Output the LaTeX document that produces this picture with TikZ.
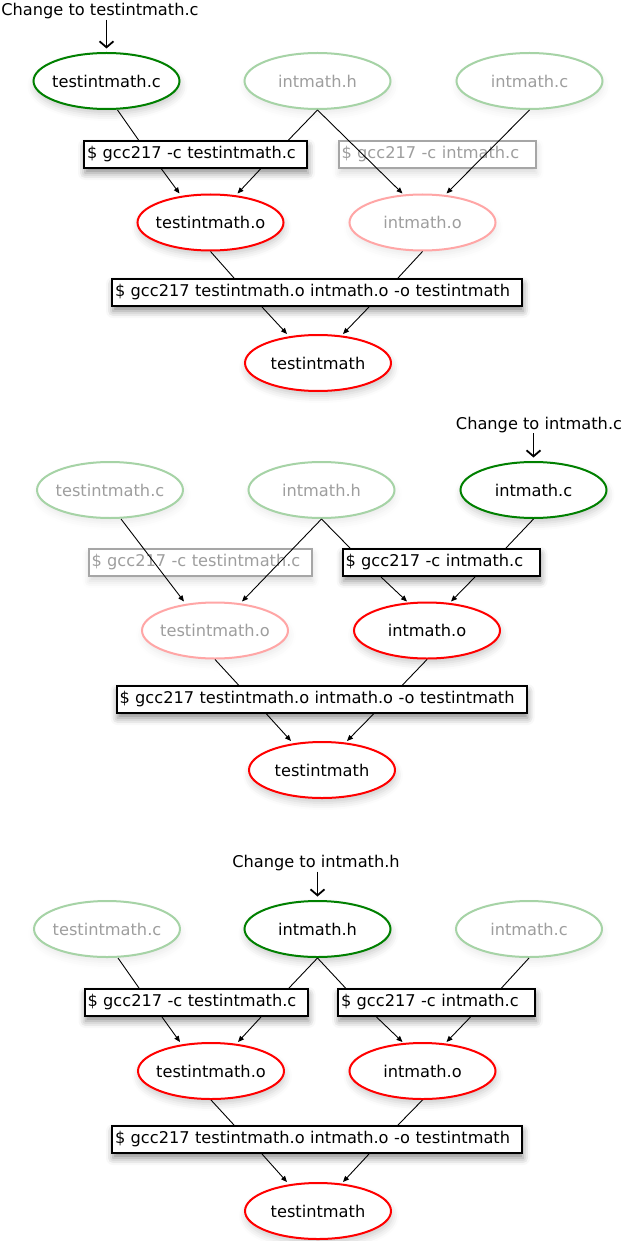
\documentclass[tikz,border=0pt]{standalone}
\usepackage{fontspec}
\setmainfont{DejaVu Sans}
\usetikzlibrary{shapes.geometric,arrows.meta,shadows.blur}
\definecolor{srcgreen}{RGB}{0,128,0}

\begin{document}
\begin{tikzpicture}[x=1pt,y=-1pt,font=\fontsize{16.2}{19}\selectfont,
  shd/.style={blur shadow={shadow xshift=1pt,shadow yshift=-5pt,shadow blur radius=7pt,shadow opacity=#1}},
  file/.style={ellipse,line width=2pt,minimum width=146pt,minimum height=56pt,inner xsep=-25pt,inner ysep=0pt,fill=white},
  src/.style={file,draw=srcgreen,shd=20},
  srcfade/.style={file,draw=srcgreen!35,text=black!38,shd=8},
  obj/.style={file,draw=red,shd=20},
  objfade/.style={file,draw=red!35,text=black!38,shd=8},
  cmdbox/.style={rectangle,line width=2pt,fill=white,inner xsep=3pt,inner ysep=0pt,minimum height=27pt,align=left},
  cmd/.style={cmdbox,draw=black,shd=45},
  cmdfade/.style={cmdbox,draw=black!35,text=black!38,shd=15},
  dep/.style={line width=0.9pt},
  make/.style={line width=0.9pt,-{Triangle[length=6pt,width=5pt]}},
  chg/.style={line width=1.8pt,-{Straight Barb[length=6pt,width=14pt]},shorten >=3.5pt},
  note/.style={inner sep=0pt}]
\useasboundingbox (0,0) rectangle (624,1241);

% testintmath.c changed
\node[note] (n1) at (100,11.5) {Change to testintmath.c};
\node[src] (tc1) at (106.5,81) {testintmath.c};
\node[srcfade] (ih1) at (317.5,81) {intmath.h};
\node[srcfade] (ic1) at (529.5,81) {intmath.c};
\node[cmd,text width=217pt] (ct1) at (195.5,154.5) {\$ gcc217 -c testintmath.c};
\node[cmdfade,text width=191pt] (ci1) at (437,154.5) {\$ gcc217 -c intmath.c};
\node[obj] (to1) at (210.5,222.5) {testintmath.o};
\node[objfade] (io1) at (422.5,222.5) {intmath.o};
\node[cmd,text width=404pt] (ln1) at (317,292.5) {\$ gcc217 testintmath.o intmath.o -o testintmath};
\node[obj] (tm1) at (318,363) {testintmath};
\draw[chg] (n1.south -| tc1.north) -- (tc1.north);
\draw[dep] ([xshift=11]tc1.south) -- ([xshift=-57]ct1.north);
\draw[dep] (ih1.south) -- ([xshift=93]ct1.north);
\draw[make] (ih1.south) -- ([xshift=-20]io1.north);
\draw[make] (ic1.south) -- ([xshift=24]io1.north);
\draw[make] ([xshift=-34]ct1.south) -- ([xshift=-31]to1.north);
\draw[make] ([xshift=65]ct1.south) -- ([xshift=27]to1.north);
\draw[dep] (to1.south) -- ([xshift=-83]ln1.north);
\draw[dep] (io1.south) -- ([xshift=81]ln1.north);
\draw[make] ([xshift=-55]ln1.south) -- ([xshift=-31]tm1.north);
\draw[make] ([xshift=52]ln1.south) -- ([xshift=25]tm1.north);

% intmath.c changed
\node[note] (n2) at (539,425) {Change to intmath.c};
\node[srcfade] (tc2) at (110,490) {testintmath.c};
\node[srcfade] (ih2) at (321.5,490) {intmath.h};
\node[src] (ic2) at (533.5,490) {intmath.c};
\node[cmdfade,text width=217pt] (ct2) at (200,562.5) {\$ gcc217 -c testintmath.c};
\node[cmd,text width=191pt] (ci2) at (441,562.5) {\$ gcc217 -c intmath.c};
\node[objfade] (to2) at (215,630.5) {testintmath.o};
\node[obj] (io2) at (427,630.5) {intmath.o};
\node[cmd,text width=404pt] (ln2) at (321.5,699.5) {\$ gcc217 testintmath.o intmath.o -o testintmath};
\node[obj] (tm2) at (322,770) {testintmath};
\draw[chg] (n2.south -| ic2.north) -- (ic2.north);
\draw[make] ([xshift=11]tc2.south) -- ([xshift=-31]to2.north);
\draw[make] (ih2.south) -- ([xshift=27]to2.north);
\draw[dep] (ih2.south) -- ([xshift=-91]ci2.north);
\draw[dep] (ic2.south) -- ([xshift=65]ci2.north);
\draw[make] ([xshift=-60]ci2.south) -- ([xshift=-20]io2.north);
\draw[make] ([xshift=34]ci2.south) -- ([xshift=24]io2.north);
\draw[dep] (to2.south) -- ([xshift=-83]ln2.north);
\draw[dep] (io2.south) -- ([xshift=81]ln2.north);
\draw[make] ([xshift=-55]ln2.south) -- ([xshift=-31]tm2.north);
\draw[make] ([xshift=52]ln2.south) -- ([xshift=25]tm2.north);

% intmath.h changed
\node[note] (n3) at (316,863.5) {Change to intmath.h};
\node[srcfade] (tc3) at (107,929) {testintmath.c};
\node[src] (ih3) at (317.5,929) {intmath.h};
\node[srcfade] (ic3) at (529,929) {intmath.c};
\node[cmd,text width=217pt] (ct3) at (196,1002.5) {\$ gcc217 -c testintmath.c};
\node[cmd,text width=191pt] (ci3) at (436.5,1002.5) {\$ gcc217 -c intmath.c};
\node[obj] (to3) at (211,1071) {testintmath.o};
\node[obj] (io3) at (422.5,1071) {intmath.o};
\node[cmd,text width=404pt] (ln3) at (317,1139.5) {\$ gcc217 testintmath.o intmath.o -o testintmath};
\node[obj] (tm3) at (318,1211) {testintmath};
\draw[chg] (n3.south -| ih3.north) -- (ih3.north);
\draw[dep] ([xshift=11]tc3.south) -- ([xshift=-57]ct3.north);
\draw[dep] (ih3.south) -- ([xshift=93]ct3.north);
\draw[dep] (ih3.south) -- ([xshift=-91]ci3.north);
\draw[dep] (ic3.south) -- ([xshift=65]ci3.north);
\draw[make] ([xshift=-34]ct3.south) -- ([xshift=-31]to3.north);
\draw[make] ([xshift=65]ct3.south) -- ([xshift=27]to3.north);
\draw[make] ([xshift=-60]ci3.south) -- ([xshift=-20]io3.north);
\draw[make] ([xshift=34]ci3.south) -- ([xshift=24]io3.north);
\draw[dep] (to3.south) -- ([xshift=-83]ln3.north);
\draw[dep] (io3.south) -- ([xshift=81]ln3.north);
\draw[make] ([xshift=-55]ln3.south) -- ([xshift=-31]tm3.north);
\draw[make] ([xshift=52]ln3.south) -- ([xshift=25]tm3.north);
\end{tikzpicture}
\end{document}
